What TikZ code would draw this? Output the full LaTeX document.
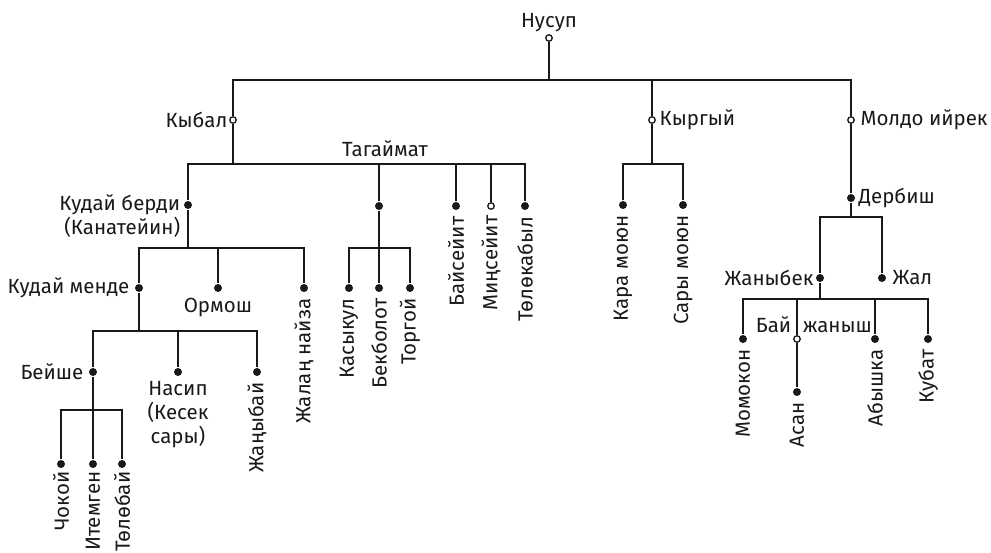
\documentclass[tikz,border=0pt]{standalone}
\usepackage{fontspec}
\setmainfont{Fira Sans}
\usetikzlibrary{positioning}
\tikzset{every path/.style={line width=1.6pt, black!90},
  dot/.style={circle, fill=black!90, inner sep=0pt, minimum size=8pt},
  odot/.style={circle, draw=black!90, fill=white, line width=1.3pt, inner sep=0pt, minimum size=6.5pt},
  lbl/.style={inner sep=1pt, font=\fontsize{20.5}{24}\selectfont},
  vlbl/.style={lbl, rotate=90, anchor=east}}

\begin{document}
\begin{tikzpicture}[x=1pt,y=-1pt]
  \useasboundingbox (0,0) rectangle (991,553);
  % bar levels
  \coordinate (b0) at (0,80);
  \coordinate (b1) at (0,164);
  \coordinate (b2) at (0,248);
  \coordinate (b3) at (0,331);
  \coordinate (b4) at (0,410);
  \coordinate (d1) at (0,217);
  \coordinate (d2) at (0,299);

  \node[odot] (nusup) at (549,38) {};
  \node[odot] (kybal) at (233,120) {};
  \node[odot] (kyrgyy) at (652,120) {};
  \node[odot] (moldo) at (851,120) {};

  \node[dot] (kudaiberdi) at (188,205) {};
  \node[dot] (tag2) at (379,206) {};
  \node[dot] (baiseiit) at (456,206) {};
  \node[odot] (minseiit) at (491,206) {};
  \node[dot] (tolokabyl) at (525,206) {};
  \node[dot] (karamoyun) at (623,205) {};
  \node[dot] (sarymoyun) at (683,205) {};

  \node[dot] (kudaimende) at (139,288) {};
  \node[dot] (ormosh) at (218,288) {};
  \node[dot] (zhalan) at (304,288) {};
  \node[dot] (kasykul) at (349,288) {};
  \node[dot] (bekbolot) at (379,288) {};
  \node[dot] (torgoi) at (410,288) {};

  \node[dot] (beishe) at (93,372) {};
  \node[dot] (nasip) at (178,372) {};
  \node[dot] (zhanybai) at (257,372) {};
  \node[dot] (chokoi) at (61,464) {};
  \node[dot] (itemgen) at (93,464) {};
  \node[dot] (tolobai) at (122,464) {};

  \node[dot] (dervish) at (851,198) {};
  \node[dot] (zhanybek) at (820,278) {};
  \node[dot] (zhal) at (882,278) {};
  \node[dot] (momokon) at (743,339) {};
  \node[odot] (baizhanysh) at (797,339) {};
  \node[dot] (asan) at (797,392) {};
  \node[dot] (abyshka) at (875,339) {};
  \node[dot] (kubat) at (928,339) {};

  % lines
  \draw (nusup) -- (nusup |- b0);
  \draw (kybal) -- (kybal |- b0) -| (moldo);
  \draw (kyrgyy) -- (kyrgyy |- b0);
  \draw (kybal) -- (kybal |- b1);
  \draw (kyrgyy) -- (kyrgyy |- b1);
  \draw (karamoyun) |- (kyrgyy |- b1) -| (sarymoyun);
  \draw (kudaiberdi) |- (tolokabyl |- b1) -- (tolokabyl);
  \draw (tag2) -- (tag2 |- b1);
  \draw (baiseiit) -- (baiseiit |- b1);
  \draw (minseiit) -- (minseiit |- b1);
  \draw (kudaiberdi) -- (kudaiberdi |- b2);
  \draw (kudaimende) |- (zhalan |- b2) -- (zhalan);
  \draw (ormosh) -- (ormosh |- b2);
  \draw (tag2) -- (bekbolot);
  \draw (kasykul) |- (torgoi |- b2) -- (torgoi);
  \draw (kudaimende) -- (kudaimende |- b3);
  \draw (beishe) |- (zhanybai |- b3) -- (zhanybai);
  \draw (nasip) -- (nasip |- b3);
  \draw (beishe) -- (itemgen);
  \draw (chokoi) |- (tolobai |- b4) -- (tolobai);
  \draw (moldo) -- (dervish);
  \draw (dervish) -- (dervish |- d1);
  \draw (zhanybek) |- (zhal |- d1) -- (zhal);
  \draw (zhanybek) -- (zhanybek |- d2);
  \draw (momokon) |- (kubat |- d2) -- (kubat);
  \draw (baizhanysh) -- (baizhanysh |- d2);
  \draw (abyshka) -- (abyshka |- d2);
  \draw (baizhanysh) -- (asan);

  % labels
  \node[lbl, above=0pt of nusup] (nusup-t) {Нусуп};
  \node[lbl, left=0pt of kybal] (kybal-t) {Кыбал};
  \node[lbl, right=2pt of kyrgyy] (kyrgyy-t) {Кыргый};
  \node[lbl, right=4pt of moldo] (moldo-t) {Молдо ийрек};
  \node[lbl, anchor=base] (tagaimat-t) at (385,157) {Тагаймат};
  \node[lbl, align=right, anchor=east] (kudaiberdi-t) at (182,216) {Кудай берди\\(Канатейин)};
  \node[lbl, left=3pt of kudaimende] (kudaimende-t) {Кудай менде};
  \node[lbl, below=4pt of ormosh] (ormosh-t) {Ормош};
  \node[lbl, left=3pt of beishe] (beishe-t) {Бейше};
  \node[lbl, align=center, below=3pt of nasip] (nasip-t) {Насип\\(Кесек\\сары)};
  \node[lbl, right=1pt of dervish] (dervish-t) {Дербиш};
  \node[lbl, left=0pt of zhanybek] (zhanybek-t) {Жаныбек};
  \node[lbl, right=4pt of zhal] (zhal-t) {Жал};
  \node[lbl, anchor=base east] (bai-t) at ([shift={(-4,-6)}]baizhanysh) {Бай};
  \node[lbl, anchor=base west] (zhanysh-t) at ([shift={(4,-6)}]baizhanysh) {жаныш};

  \node[vlbl] (zhalan-t) at ([yshift=-4pt]zhalan.south) {Жалаң найза};
  \node[vlbl] (kasykul-t) at ([yshift=-4pt]kasykul.south) {Касыкул};
  \node[vlbl] (bekbolot-t) at ([yshift=-4pt]bekbolot.south) {Бекболот};
  \node[vlbl] (torgoi-t) at ([yshift=-4pt]torgoi.south) {Торгой};
  \node[vlbl] (baiseiit-t) at ([yshift=-4pt]baiseiit.south) {Байсейит};
  \node[vlbl] (minseiit-t) at ([yshift=-4pt]minseiit.south) {Миңсейит};
  \node[vlbl] (tolokabyl-t) at ([yshift=-4pt]tolokabyl.south) {Төлөкабыл};
  \node[vlbl] (karamoyun-t) at ([yshift=-4pt]karamoyun.south) {Кара моюн};
  \node[vlbl] (sarymoyun-t) at ([yshift=-4pt]sarymoyun.south) {Сары моюн};
  \node[vlbl] (zhanybai-t) at ([yshift=-4pt]zhanybai.south) {Жаңыбай};
  \node[vlbl] (chokoi-t) at ([yshift=-1pt]chokoi.south) {Чокой};
  \node[vlbl] (itemgen-t) at ([yshift=-1pt]itemgen.south) {Итемген};
  \node[vlbl] (tolobai-t) at ([yshift=-1pt]tolobai.south) {Төлөбай};
  \node[vlbl] (momokon-t) at ([yshift=-4pt]momokon.south) {Момокон};
  \node[vlbl] (asan-t) at ([yshift=-4pt]asan.south) {Асан};
  \node[vlbl] (abyshka-t) at ([yshift=-4pt]abyshka.south) {Абышка};
  \node[vlbl] (kubat-t) at ([yshift=-4pt]kubat.south) {Кубат};
\end{tikzpicture}
\end{document}
